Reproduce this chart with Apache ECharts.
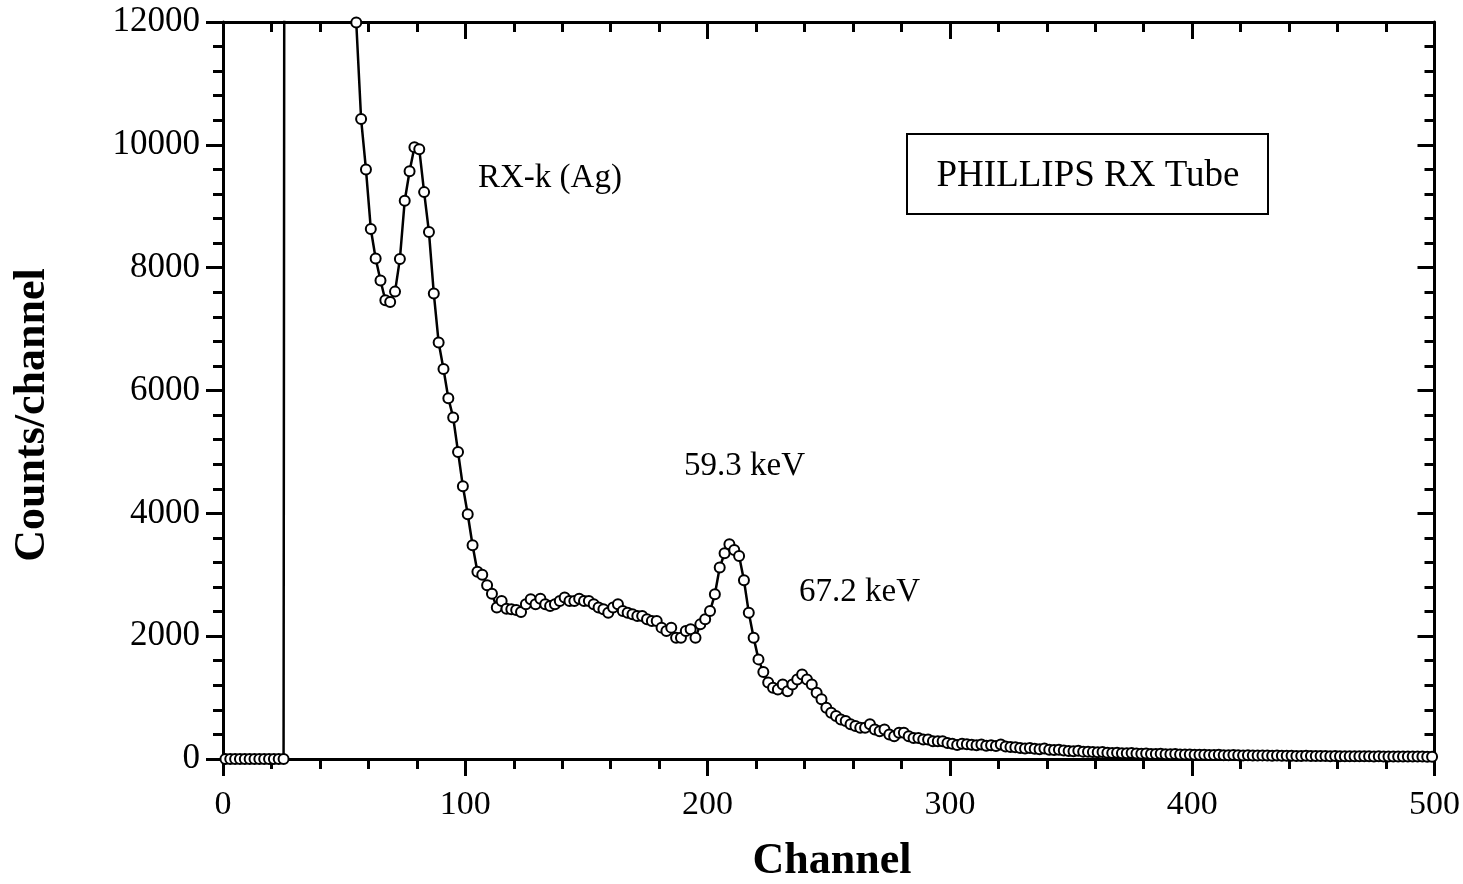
<!DOCTYPE html>
<html><head><meta charset="utf-8">
<script src="https://cdn.jsdelivr.net/npm/echarts@6/dist/echarts.min.js"></script>
<style>html,body{margin:0;padding:0;background:#fff}#c{width:1463px;height:884px}</style>
</head><body><div id="c"></div>
<script>
// Channel numbers (every second channel)
const channels = [
1,3,5,7,9,11,13,15,17,19,21,23,25,27,29,31,33,35,37,39,41,43,45,47,49,51,53,55,57,59,
61,63,65,67,69,71,73,75,77,79,81,83,85,87,89,91,93,95,97,99,101,103,105,107,109,111,113,115,117,119,
121,123,125,127,129,131,133,135,137,139,141,143,145,147,149,151,153,155,157,159,161,163,165,167,169,171,173,175,177,179,
181,183,185,187,189,191,193,195,197,199,201,203,205,207,209,211,213,215,217,219,221,223,225,227,229,231,233,235,237,239,
241,243,245,247,249,251,253,255,257,259,261,263,265,267,269,271,273,275,277,279,281,283,285,287,289,291,293,295,297,299,
301,303,305,307,309,311,313,315,317,319,321,323,325,327,329,331,333,335,337,339,341,343,345,347,349,351,353,355,357,359,
361,363,365,367,369,371,373,375,377,379,381,383,385,387,389,391,393,395,397,399,401,403,405,407,409,411,413,415,417,419,
421,423,425,427,429,431,433,435,437,439,441,443,445,447,449,451,453,455,457,459,461,463,465,467,469,471,473,475,477,479,
481,483,485,487,489,491,493,495,497,499
];
// Counts per channel (values above 12000 are off-scale)
const counts = [
0,0,0,0,0,0,0,0,0,0,0,0,0,
90000,60000,45000,36000,30000,26000,23000,20500,18500,17000,15700,14600,13600,12800,
11990,10420,9600,8630,8150,7790,7470,7440,7610,8140,9090,9570,9960,9930,9230,8580,7580,6780,
6350,5875,5560,5000,4440,3985,3480,3050,3000,2830,2690,
2465,2572,2448,2437,2425,2393,2518,2600,2518,2611,2518,2491,2518,2572,2628,2572,2572,2611,2572,2572,
2518,2465,2437,2383,2465,2518,2409,2383,2355,2328,2328,2274,2246,2246,2139,2083,2139,1976,1976,2083,
2111,1976,2192,2274,2409,2681,3117,
3350,3497,3404,3306,2910,2383,1976,1622,1415,1247,1161,1133,1214,1105,1214,1296,1377,1296,1214,
1079,971,835,753,699,645,618,564,536,509,509,564,482,453,482,400,372,426,426,370,343,343,317,317,289,289,289,261,
250,228,250,240,232,225,238,215,222,210,
235,205,196,190,180,172,178,165,160,170,
150,145,152,138,132,128,135,120,118,112,
108,115,100,98,102,95,92,96,88,86,
90,82,80,84,78,76,80,74,72,75,
70,68,71,66,65,68,63,62,64,60,
59,62,57,56,59,55,54,56,52,52,
54,50,50,52,48,48,50,47,46,48,
45,45,46,44,43,45,43,42,43,41,
41,42,40,40,41,39,39,40,38,38
];
const xTitle = 'Channel';
const yTitle = 'Counts/channel';
const labels = [
  {text: 'RX-k (Ag)', x: 478, y: 178},
  {text: '59.3 keV', x: 684, y: 466},
  {text: '67.2 keV', x: 799, y: 592}
];
const boxText = 'PHILLIPS RX Tube';

const serif = '"Liberation Serif", "DejaVu Serif", serif';
const black = '#000';
const tickStyle = {color: black, width: 3};
function axisBase(extra) {
  return Object.assign({
    type: 'value',
    axisLine: {show: true, onZero: false, lineStyle: {color: black, width: 3}},
    splitLine: {show: false},
    minorSplitLine: {show: false}
  }, extra);
}
const plainNum = v => String(v);
const chart = echarts.init(document.getElementById('c'), null, {renderer: 'canvas'});
const option = {
  animation: false,
  backgroundColor: '#fff',
  grid: {left: 223, right: 28, top: 22, bottom: 125, show: false},
  xAxis: [
    axisBase({min: 0, max: 500, interval: 100, position: 'bottom',
      axisTick: {show: true, inside: false, length: 17, lineStyle: tickStyle},
      minorTick: {show: true, splitNumber: 5, length: 10, lineStyle: tickStyle},
      axisLabel: {show: true, color: black, fontFamily: serif, fontSize: 34, margin: 29, formatter: plainNum}}),
    axisBase({min: 0, max: 500, interval: 100, position: 'top',
      axisTick: {show: true, inside: true, length: 17, lineStyle: tickStyle},
      minorTick: {show: true, splitNumber: 5, length: 10, lineStyle: tickStyle},
      axisLabel: {show: false}})
  ],
  yAxis: [
    axisBase({min: 0, max: 12000, interval: 2000, position: 'left',
      axisTick: {show: true, inside: false, length: 17, lineStyle: tickStyle},
      minorTick: {show: true, splitNumber: 5, length: 10, lineStyle: tickStyle},
      axisLabel: {show: true, color: black, fontFamily: serif, fontSize: 35, margin: 23, formatter: plainNum}}),
    axisBase({min: 0, max: 12000, interval: 2000, position: 'right',
      axisTick: {show: true, inside: true, length: 17, lineStyle: tickStyle},
      minorTick: {show: true, splitNumber: 5, length: 10, lineStyle: tickStyle},
      axisLabel: {show: false}})
  ],
  series: [{
    type: 'line',
    xAxisIndex: 0, yAxisIndex: 0,
    data: channels.map((c, i) => [c, counts[i]]),
    clip: true,
    symbol: 'circle',
    symbolSize: 10,
    showSymbol: true,
    showAllSymbol: true,
    itemStyle: {color: '#fff', borderColor: black, borderWidth: 2},
    lineStyle: {color: black, width: 2.5},
    z: 3
  }],
  graphic: [
    {type: 'text', x: 832, y: 862, style: {text: xTitle, fill: black, font: 'bold 44px ' + serif, textAlign: 'center', textVerticalAlign: 'middle'}},
    {type: 'text', x: 33, y: 415, rotation: Math.PI / 2, style: {text: yTitle, fill: black, font: 'bold 44px ' + serif, textAlign: 'center', textVerticalAlign: 'middle'}},
    {type: 'rect', shape: {x: 907, y: 134, width: 361, height: 80}, style: {fill: '#fff', stroke: black, lineWidth: 2}, z: 10},
    {type: 'text', x: 1088, y: 176, z: 11, style: {text: boxText, fill: black, font: '37px ' + serif, textAlign: 'center', textVerticalAlign: 'middle'}}
  ].concat(labels.map(l => ({type: 'text', x: l.x, y: l.y, z: 11,
    style: {text: l.text, fill: black, font: '33px ' + serif, textAlign: 'left', textVerticalAlign: 'middle'}})))
};
chart.setOption(option);
</script>
</body></html>
